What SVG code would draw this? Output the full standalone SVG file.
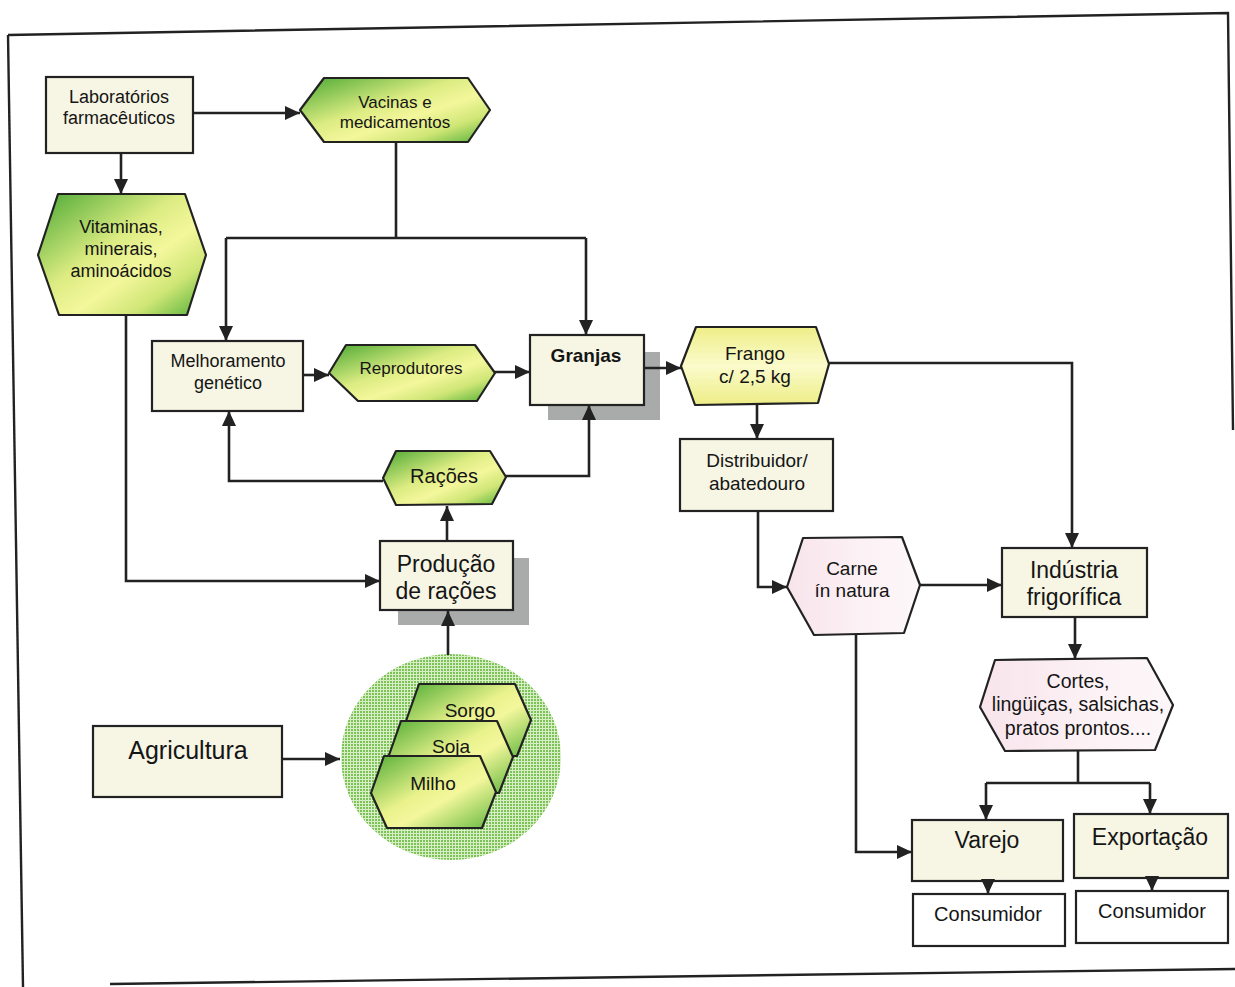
<svg xmlns="http://www.w3.org/2000/svg" width="1235" height="987" viewBox="0 0 1235 987">
  <style>
    .box { fill: #f7f5e4; stroke: #222; stroke-width: 2.2; }
    .white { fill: #ffffff; stroke: #222; stroke-width: 2.2; }
    .shadow { fill: #a9abab; }
    .hexg { fill: url(#greenGrad); stroke: #222; stroke-width: 2.2; stroke-linejoin: round; }
    .hexy { fill: url(#yellowGrad); stroke: #222; stroke-width: 2.2; stroke-linejoin: round; }
    .hexp { fill: url(#pinkGrad); stroke: #222; stroke-width: 2.2; stroke-linejoin: round; }
    .grain { fill: url(#grainGrad); stroke: #222; stroke-width: 2.2; stroke-linejoin: round; }
    text { font-family: "Liberation Sans", Arial, sans-serif; fill: #151515; text-anchor: middle; }
    .edge { fill: none; stroke: #222; stroke-width: 2.6; }
    .arrow { fill: none; stroke: #222; stroke-width: 2.6; marker-end: url(#head); }
    .frame { fill: none; stroke: #222; stroke-width: 2.4; }
  </style>
  <defs>
    <marker id="head" markerUnits="userSpaceOnUse" markerWidth="15" markerHeight="14" refX="15" refY="7" orient="auto">
      <path d="M0,0 L15,7 L0,14 z" fill="#222"/>
    </marker>
    <linearGradient id="greenGrad" x1="0" y1="0" x2="1" y2="1">
      <stop offset="0" stop-color="#4aa833"/>
      <stop offset="0.42" stop-color="#dcec82"/>
      <stop offset="0.6" stop-color="#f4f79c"/>
      <stop offset="0.78" stop-color="#cfe676"/>
      <stop offset="1" stop-color="#4fae35"/>
    </linearGradient>
    <linearGradient id="grainGrad" x1="0" y1="0" x2="1" y2="1">
      <stop offset="0" stop-color="#52ad36"/>
      <stop offset="0.45" stop-color="#e9f28c"/>
      <stop offset="0.6" stop-color="#f4f79c"/>
      <stop offset="1" stop-color="#62b83e"/>
    </linearGradient>
    <linearGradient id="yellowGrad" x1="0" y1="0" x2="0" y2="1">
      <stop offset="0" stop-color="#eeee88"/>
      <stop offset="0.5" stop-color="#fbfbcc"/>
      <stop offset="1" stop-color="#eded86"/>
    </linearGradient>
    <linearGradient id="pinkGrad" x1="0" y1="0" x2="1" y2="0">
      <stop offset="0" stop-color="#f8e4ec"/>
      <stop offset="0.6" stop-color="#fcf2f5"/>
      <stop offset="1" stop-color="#fdf7f9"/>
    </linearGradient>
    <pattern id="dots" width="3" height="3" patternUnits="userSpaceOnUse">
      <rect width="3" height="3" fill="#d8eec6"/>
      <rect width="2" height="2" fill="#7cc257"/>
    </pattern>
  </defs>

  <!-- page frame -->
  <g id="frame">
    <path class="frame" d="M8,35 L1228,13 L1233,430"/>
    <path class="frame" d="M8,35 L23,987"/>
    <path class="frame" d="M110,984 L1235,969"/>
  </g>

  <g id="laboratorios">
    <rect class="box" x="46" y="77" width="147" height="76"/>
    <text font-size="18"><tspan x="119" y="103">Laboratórios</tspan><tspan x="119" y="124">farmacêuticos</tspan></text>
  </g>

  <g id="vacinas">
    <polygon class="hexg" points="300,110 324,78 468,78 490,110 468,142 324,142"/>
    <text font-size="17"><tspan x="395" y="108">Vacinas e</tspan><tspan x="395" y="128">medicamentos</tspan></text>
  </g>

  <g id="vitaminas">
    <polygon class="hexg" points="38,255 58,194 185,194 206,255 187,315 59,315"/>
    <text font-size="18"><tspan x="121" y="233">Vitaminas,</tspan><tspan x="121" y="255">minerais,</tspan><tspan x="121" y="277">aminoácidos</tspan></text>
  </g>

  <g id="melhoramento">
    <rect class="box" x="152" y="341" width="151" height="70"/>
    <text font-size="18"><tspan x="228" y="367">Melhoramento</tspan><tspan x="228" y="389">genético</tspan></text>
  </g>

  <g id="reprodutores">
    <polygon class="hexg" points="329,373 346,345 475,345 495,373 477,401 358,401"/>
    <text font-size="17" x="411" y="374">Reprodutores</text>
  </g>

  <g id="granjas">
    <rect class="shadow" x="548" y="352" width="112" height="68"/>
    <rect class="box" x="530" y="335" width="114" height="70"/>
    <text font-size="19" font-weight="bold" x="586" y="362">Granjas</text>
  </g>

  <g id="racoes">
    <polygon class="hexg" points="383,478 396,451 490,451 506,477 492,504 396,505"/>
    <text font-size="20" x="444" y="483">Rações</text>
  </g>

  <g id="producao">
    <rect class="shadow" x="398" y="558" width="131" height="67"/>
    <rect class="box" x="380" y="541" width="133" height="69"/>
    <text font-size="23"><tspan x="446" y="572">Produção</tspan><tspan x="446" y="599">de rações</tspan></text>
  </g>

  <g id="agricultura">
    <rect class="box" x="93" y="726" width="189" height="71"/>
    <text font-size="25" x="188" y="759">Agricultura</text>
  </g>

  <g id="graos">
    <ellipse cx="451" cy="757" rx="110" ry="103" fill="url(#dots)"/>
    <g id="sorgo" transform="translate(35,-72)">
      <polygon class="grain" points="371,793 384,756 480,756 496,792 482,828 387,828"/>
      <text font-size="19" x="435" y="789">Sorgo</text>
    </g>
    <g id="soja" transform="translate(17,-35)">
      <polygon class="grain" points="371,793 384,756 480,756 496,792 482,828 387,828"/>
      <text font-size="19" x="434" y="788">Soja</text>
    </g>
    <g id="milho">
      <polygon class="grain" points="371,793 384,756 480,756 496,792 482,828 387,828"/>
      <text font-size="19" x="433" y="790">Milho</text>
    </g>
  </g>

  <g id="frango">
    <polygon class="hexy" points="681,366 696,327 816,327 829,364 818,403 695,405"/>
    <text font-size="19"><tspan x="755" y="360">Frango</tspan><tspan x="755" y="383">c/ 2,5 kg</tspan></text>
  </g>

  <g id="distribuidor">
    <rect class="box" x="680" y="439" width="153" height="72"/>
    <text font-size="19"><tspan x="757" y="467">Distribuidor/</tspan><tspan x="757" y="490">abatedouro</tspan></text>
  </g>

  <g id="carne">
    <polygon class="hexp" points="787,587 803,538 902,537 920,585 904,633 814,635"/>
    <text font-size="19"><tspan x="852" y="575">Carne</tspan><tspan x="852" y="597">ín natura</tspan></text>
  </g>

  <g id="industria">
    <rect class="box" x="1002" y="548" width="145" height="69"/>
    <text font-size="23"><tspan x="1074" y="578">Indústria</tspan><tspan x="1074" y="605">frigorífica</tspan></text>
  </g>

  <g id="cortes">
    <polygon class="hexp" points="980,707 995,660 1147,658 1173,705 1155,750 1005,751"/>
    <text font-size="19.5"><tspan x="1078" y="688">Cortes,</tspan><tspan x="1078" y="711">lingüiças, salsichas,</tspan><tspan x="1078" y="735">pratos prontos....</tspan></text>
  </g>

  <g id="varejo">
    <rect class="box" x="912" y="820" width="151" height="61"/>
    <text font-size="23" x="987" y="848">Varejo</text>
  </g>

  <g id="exportacao">
    <rect class="box" x="1074" y="814" width="154" height="64"/>
    <text font-size="23" x="1150" y="845">Exportação</text>
  </g>

  <g id="consumidor-varejo">
    <rect class="white" x="913" y="894" width="152" height="52"/>
    <text font-size="20" x="988" y="921">Consumidor</text>
  </g>

  <g id="consumidor-exportacao">
    <rect class="white" x="1076" y="891" width="152" height="52"/>
    <text font-size="20" x="1152" y="918">Consumidor</text>
  </g>

  <!-- connectors, drawn last so they sit over the drop shadows -->
  <g id="connectors">
    <path class="arrow" d="M193,113 H300"/>
    <path class="arrow" d="M121,153 V194"/>
    <path class="edge" d="M396,142 V238 M226,238 H586"/>
    <path class="arrow" d="M226,238 V341"/>
    <path class="arrow" d="M586,238 V335"/>
    <path class="arrow" d="M126,315 V581 H380"/>
    <path class="arrow" d="M303,375 H329"/>
    <path class="arrow" d="M495,372 H530"/>
    <path class="arrow" d="M644,368 H681"/>
    <path class="arrow" d="M383,481 H229 V411"/>
    <path class="arrow" d="M506,476 H589 V405"/>
    <path class="arrow" d="M447,541 V506"/>
    <path class="arrow" d="M448,655 V611"/>
    <path class="arrow" d="M282,759 H340"/>
    <path class="arrow" d="M757,405 V439"/>
    <path class="arrow" d="M829,363 H1072 V548"/>
    <path class="arrow" d="M758,511 V587 H787"/>
    <path class="arrow" d="M920,585 H1002"/>
    <path class="arrow" d="M1075,617 V659"/>
    <path class="edge" d="M1078,751 V783 M986,783 H1150"/>
    <path class="arrow" d="M986,783 V820"/>
    <path class="arrow" d="M1150,783 V814"/>
    <path class="arrow" d="M856,634 V852 H912"/>
    <path class="arrow" d="M988,880 V894"/>
    <path class="arrow" d="M1152,877 V891"/>
  </g>
</svg>
